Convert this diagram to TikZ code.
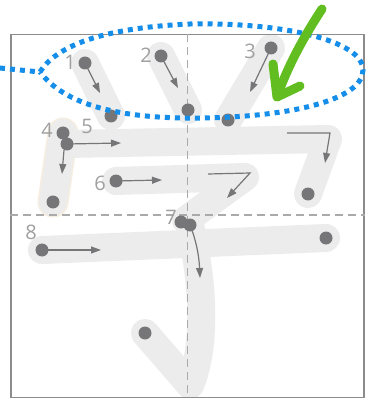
\documentclass[tikz,border=0pt]{standalone}
\usepackage{fontspec}
\setmainfont{Open Sans}
\usetikzlibrary{arrows.meta}
\definecolor{bandc}{RGB}{236,236,236}
\definecolor{dotc}{RGB}{118,118,120}
\definecolor{labc}{RGB}{160,160,160}
\definecolor{framec}{RGB}{140,140,140}
\definecolor{dashc}{RGB}{170,170,170}
\definecolor{bluec}{RGB}{20,142,232}
\definecolor{greenc}{RGB}{98,190,32}
\definecolor{tanc}{RGB}{246,238,224}
\tikzset{
  band/.style={draw=bandc,line width=28pt,line cap=round,line join=round},
  dotn/.style={circle,fill=dotc,minimum size=13pt,inner sep=0pt},
  lab/.style={text=labc,font=\fontsize{20}{20}\selectfont,inner sep=0pt},
  dirarrow/.style={draw=dotc,line width=1.2pt,-{Triangle[length=10pt,width=7pt]}},
  gridline/.style={draw=dashc,line width=1.2pt,dash pattern=on 8pt off 5pt},
  bluedot/.style={draw=bluec,line width=5pt,dash pattern=on 5pt off 5pt},
}
\begin{document}
\begin{tikzpicture}[x=1pt,y=-1pt]
\useasboundingbox[fill=white] (0,0) rectangle (365,398);
% coordinates of stroke points
\coordinate (s1a) at (85,63); \coordinate (s1b) at (111,116);
\coordinate (s2a) at (161,56); \coordinate (s2b) at (188,110);
\coordinate (s3a) at (271,48); \coordinate (s3b) at (228,120);
\coordinate (s4a) at (63,133); \coordinate (s4b) at (53,202);
\coordinate (s5a) at (67,144); \coordinate (s5c) at (328,139); \coordinate (s5b) at (308,194);
\coordinate (s6a) at (116,181); \coordinate (s6c) at (245,177); \coordinate (s6b) at (186,220);
\coordinate (s7a) at (190,225); \coordinate (s7c) at (190,385); \coordinate (s7b) at (145,333);
\coordinate (s8a) at (42,250); \coordinate (s8b) at (326,238);
% bands
\draw[band] (s1a) -- (s1b);
\draw[band] (s2a) -- (s2b);
\draw[band] (s3a) -- (s3b);
\draw[draw=tanc,line width=31pt,line cap=round] (s4a) -- (s4b);
\draw[band] (s4a) -- (s4b);
\draw[band] (s5a) -- (s5c) -- (s5b);
\draw[band] (s6a) -- (s6c) -- (s6b);
\draw[band] (s7a) .. controls (205,290) and (205,350) .. (s7c) -- (s7b);
\draw[band] (s8a) -- (s8b);
% frame and grid
\node[draw=framec,line width=1.5pt,minimum width=353pt,minimum height=363pt,inner sep=0pt,anchor=north west] (frame) at (10,34) {};
\draw[gridline] (frame.north) -- (frame.south);
\draw[gridline] (frame.west |- 0,215) -- (frame.east |- 0,215);
% dots
\node[dotn] (d1a) at (s1a) {}; \node[dotn] (d1b) at (s1b) {};
\node[dotn] (d2a) at (s2a) {}; \node[dotn] (d2b) at (s2b) {};
\node[dotn] (d3a) at (s3a) {}; \node[dotn] (d3b) at (s3b) {};
\node[dotn] (d4a) at (s4a) {}; \node[dotn] (d4b) at (s4b) {};
\node[dotn] (d5a) at (s5a) {}; \node[dotn] (d5b) at (s5b) {};
\node[dotn] (d6a) at (s6a) {};
\node[dotn] (d7x) at (181,222) {}; \node[dotn] (d7a) at (s7a) {}; \node[dotn] (d7b) at (s7b) {};
\node[dotn] (d8a) at (s8a) {}; \node[dotn] (d8b) at (s8b) {};
% direction arrows
\coordinate (a1) at (100,93);
\coordinate (a2) at (178,88);
\coordinate (a3) at (250,92);
\coordinate (a4s) at (64,150); \coordinate (a4) at (62,174);
\coordinate (a5) at (121,143);
\coordinate (a5s) at (287,133); \coordinate (a5m) at (330,133); \coordinate (a5e) at (325,163);
\coordinate (a6) at (162,180);
\coordinate (a6s) at (208,174); \coordinate (a6m) at (250,173); \coordinate (a6e) at (227,198);
\coordinate (a7) at (200,278);
\coordinate (a8) at (101,250);
\draw[dirarrow] (d1a.center) -- (a1);
\draw[dirarrow] (d2a.center) -- (a2);
\draw[dirarrow] (d3a.center) -- (a3);
\draw[dirarrow] (a4s) -- (a4);
\draw[dirarrow] (d5a.center) -- (a5);
\draw[dirarrow] (a5s) -- (a5m) -- (a5e);
\draw[dirarrow] (d6a.center) -- (a6);
\draw[dirarrow] (a6s) -- (a6m) -- (a6e);
\draw[dirarrow] (d7a.center) .. controls (196,240) and (199,255) .. (a7);
\draw[dirarrow] (d8a.center) -- (a8);
% labels
\node[lab] (l1) at (70,62) {1};
\node[lab] (l2) at (146,55) {2};
\node[lab] (l3) at (250,51) {3};
\node[lab] (l4) at (47,130) {4};
\node[lab] (l5) at (87,126) {5};
\node[lab] (l6) at (100,183) {6};
\node[lab] (l7) at (171,217) {7};
\node[lab] (l8) at (31,232) {8};
% blue dotted loop
\coordinate (tip) at (40,72);
\coordinate (tail) at (0,68);
\draw[bluedot] (tip) .. controls (60,40) and (120,27) .. (190,24)
  .. controls (280,22) and (363,40) .. (363,70)
  .. controls (363,100) and (290,117) .. (200,118)
  .. controls (120,119) and (65,105) .. (tip);
\draw[bluedot] (tail) -- (tip);
% green arrow
\coordinate (g0) at (322,9);
\coordinate (gt) at (277,97);
\coordinate (gl) at (273,64);
\coordinate (gr) at (300,86);
\draw[greenc,line width=9pt,line cap=round,line join=round]
  (g0) .. controls (305,35) and (288,65) .. (gt);
\draw[greenc,line width=9pt,line cap=round,line join=round] (gl) -- (gt) -- (gr);
\end{tikzpicture}
\end{document}
